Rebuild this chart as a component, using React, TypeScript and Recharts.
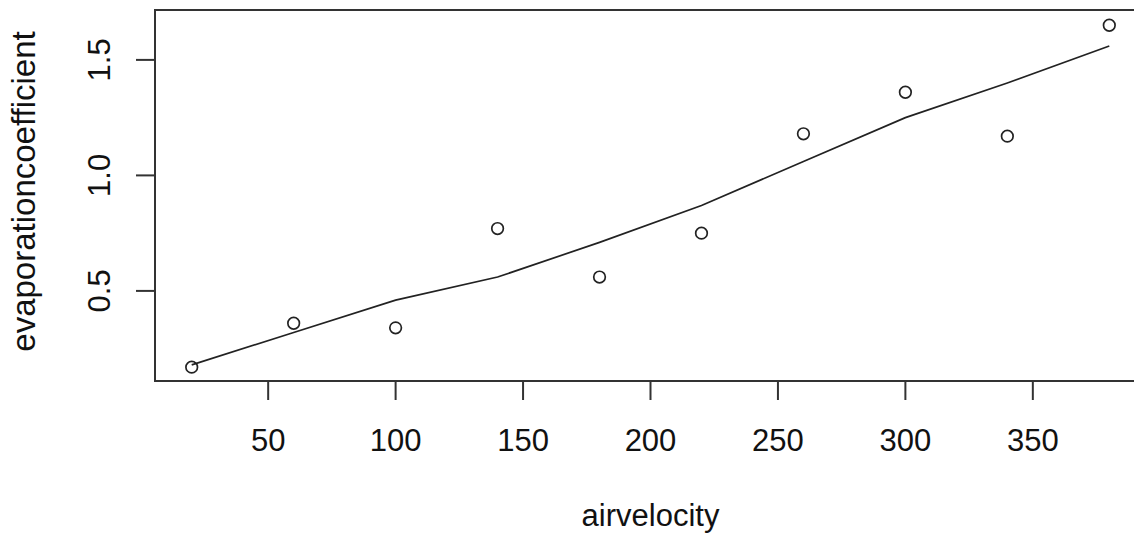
import { ComposedChart, Line, Scatter, XAxis, YAxis, ReferenceArea } from 'recharts'

const airVelocity = [20, 60, 100, 140, 180, 220, 260, 300, 340, 380]
const evapCoefficient = [0.17, 0.36, 0.34, 0.77, 0.56, 0.75, 1.18, 1.36, 1.17, 1.65]
const lowessFit = [0.18, 0.32, 0.46, 0.56, 0.71, 0.87, 1.06, 1.25, 1.4, 1.56]

const xTicks = [50, 100, 150, 200, 250, 300, 350]
const yTicks = [0.5, 1.0, 1.5]

const data = airVelocity.map((x, i) => ({ x, y: evapCoefficient[i], fit: lowessFit[i] }))

// R-style limits: data range padded by 4%
const xDomain: [number, number] = [5.6, 394.4]
const yDomain: [number, number] = [0.11, 1.716]

const FONT = '"Liberation Sans", Arial, sans-serif'
const INK = '#222'

function YTick(props: any) {
  const { x, y, payload } = props
  return (
    <text
      x={x}
      y={y}
      transform={`rotate(-90 ${x} ${y})`}
      textAnchor="middle"
      fontSize={31}
      fontFamily={FONT}
      fill="#111"
    >
      {Number(payload.value).toFixed(1)}
    </text>
  )
}

function OpenCircle(props: any) {
  const { cx, cy } = props
  if (cx == null || cy == null) return null
  return <circle cx={cx} cy={cy} r={5.8} fill="none" stroke={INK} strokeWidth={1.7} />
}

function XLabel(props: any) {
  const vb = props.viewBox ?? { x: 155, y: 381, width: 991, height: 152 }
  return (
    <text x={vb.x + vb.width / 2} y={vb.y + 145} textAnchor="middle" fontSize={31} fontFamily={FONT} fill="#111">
      airvelocity
    </text>
  )
}

function YLabel(props: any) {
  const vb = props.viewBox ?? { x: 0, y: 10, width: 155, height: 371 }
  const cy = vb.y + vb.height / 2 - 4
  return (
    <text
      x={35}
      y={cy}
      transform={`rotate(-90 35 ${cy})`}
      textAnchor="middle"
      fontSize={33}
      fontFamily={FONT}
      fill="#111"
    >
      evaporationcoefficient
    </text>
  )
}

export default function App() {
  const axisStroke = { stroke: '#333', strokeWidth: 2 }
  return (
    <div
      style={{
        position: 'absolute',
        left: 0,
        top: 0,
        width: 1134,
        height: 533,
        overflow: 'hidden',
        background: '#fff',
      }}
    >
      <ComposedChart width={1160} height={533} data={data} margin={{ top: 10, right: 14, bottom: 0, left: 0 }}>
        <XAxis
          dataKey="x"
          type="number"
          domain={xDomain}
          ticks={xTicks}
          interval={0}
          allowDataOverflow
          height={152}
          tickSize={19}
          tickMargin={29}
          axisLine={axisStroke}
          tickLine={axisStroke}
          tick={{ fontSize: 31, fill: '#111', fontFamily: FONT }}
          label={<XLabel />}
        />
        <YAxis
          type="number"
          domain={yDomain}
          ticks={yTicks}
          interval={0}
          allowDataOverflow
          width={155}
          tickSize={19}
          tickMargin={26}
          axisLine={axisStroke}
          tickLine={axisStroke}
          tick={<YTick />}
          label={<YLabel />}
        />
        <ReferenceArea
          x1={xDomain[0]}
          x2={xDomain[1]}
          y1={yDomain[0]}
          y2={yDomain[1]}
          fill="none"
          fillOpacity={0}
          stroke="#333"
          strokeWidth={2}
          ifOverflow="visible"
        />
        <Line
          type="linear"
          dataKey="fit"
          stroke={INK}
          strokeWidth={1.7}
          dot={false}
          activeDot={false}
          isAnimationActive={false}
        />
        <Scatter dataKey="y" shape={<OpenCircle />} isAnimationActive={false} />
      </ComposedChart>
    </div>
  )
}
